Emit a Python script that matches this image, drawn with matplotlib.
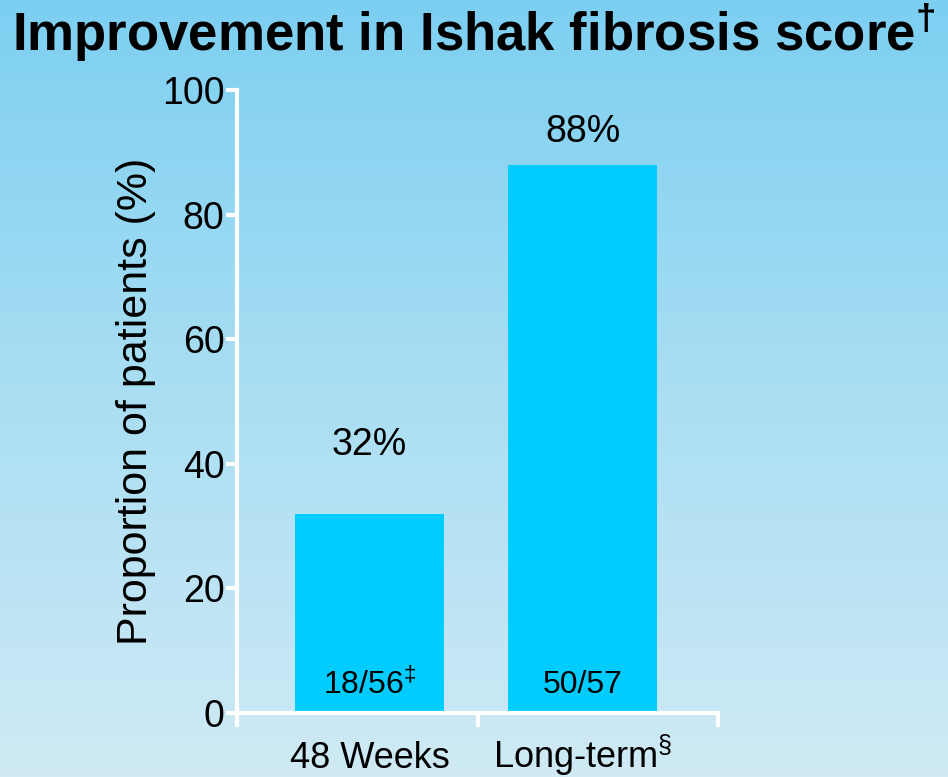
import numpy as np
import matplotlib
matplotlib.use("Agg")
import matplotlib.pyplot as plt
import matplotlib.transforms as mtransforms
from matplotlib.colors import LinearSegmentedColormap

plt.rcParams['font.family'] = ['Liberation Sans', 'DejaVu Sans']
plt.rcParams['mathtext.fontset'] = 'custom'
plt.rcParams['mathtext.rm'] = 'Liberation Sans'
plt.rcParams['mathtext.bf'] = 'Liberation Sans:bold'

# data
categories = ["48 Weeks", "Long-term$^{\\mathregular{\u00a7}}$"]
percent = [32, 88]
counts = ["18/56$^{\\mathregular{\u2021}}$", "50/57"]
yticks = [0, 20, 40, 60, 80, 100]

fig = plt.figure(figsize=(9.48, 7.77), dpi=100)

# gradient background
bg = fig.add_axes([0, 0, 1, 1], zorder=-10)
grad = np.linspace(0, 1, 256).reshape(-1, 1)
cmap = LinearSegmentedColormap.from_list("bg", ["#7ccff1", "#a9def3", "#cfeaf5"])
bg.imshow(grad, aspect="auto", cmap=cmap, extent=[0, 1, 0, 1], origin="upper")
bg.axis("off")

# axes: x 237..718 px, y 90..713 px
ax = fig.add_axes([237 / 948, 1 - 713 / 777, (718 - 237) / 948, (713 - 90) / 777])
ax.patch.set_alpha(0)

xpos = [0.551, 1.437]
ax.bar(xpos, percent, width=0.62, color="#00ccff", zorder=2)

ax.set_xlim(0, 2)
ax.set_ylim(0, 100)

for s in ["top", "right"]:
    ax.spines[s].set_visible(False)
for s in ["left", "bottom"]:
    ax.spines[s].set_color("white")
    ax.spines[s].set_linewidth(3)
    ax.spines[s].set_zorder(3)

ax.set_yticks(yticks)
ax.set_yticklabels([str(t) for t in yticks], fontsize=27)
ax.tick_params(axis="y", length=8, width=3, color="white", pad=1)

# category labels on a common baseline near the bottom edge
ax.set_xticks([0, 1, 2])
ax.set_xticklabels([])
ax.tick_params(axis="x", length=10, width=3, color="white")
trans = mtransforms.blended_transform_factory(ax.transData, fig.transFigure)
for x, c in zip(xpos, categories):
    ax.text(x, 9 / 777, c, ha="center", va="baseline", fontsize=26, transform=trans)

ax.set_ylabel("Proportion of patients (%)", fontsize=31, labelpad=4)

label_y = [43, 93.3]
for x, p, ly in zip(xpos, percent, label_y):
    ax.text(x, ly, f"{p}%", ha="center", va="center", fontsize=27)
for x, c in zip(xpos, counts):
    ax.text(x, 4.5, c, ha="center", va="center", fontsize=23)

fig.text(0.5, 1 - 33 / 777, "Improvement in Ishak fibrosis score$^{\\mathregular{\u2020}}$",
         ha="center", va="center", fontsize=38, fontweight="bold")

fig.savefig("out.png", dpi=100)
